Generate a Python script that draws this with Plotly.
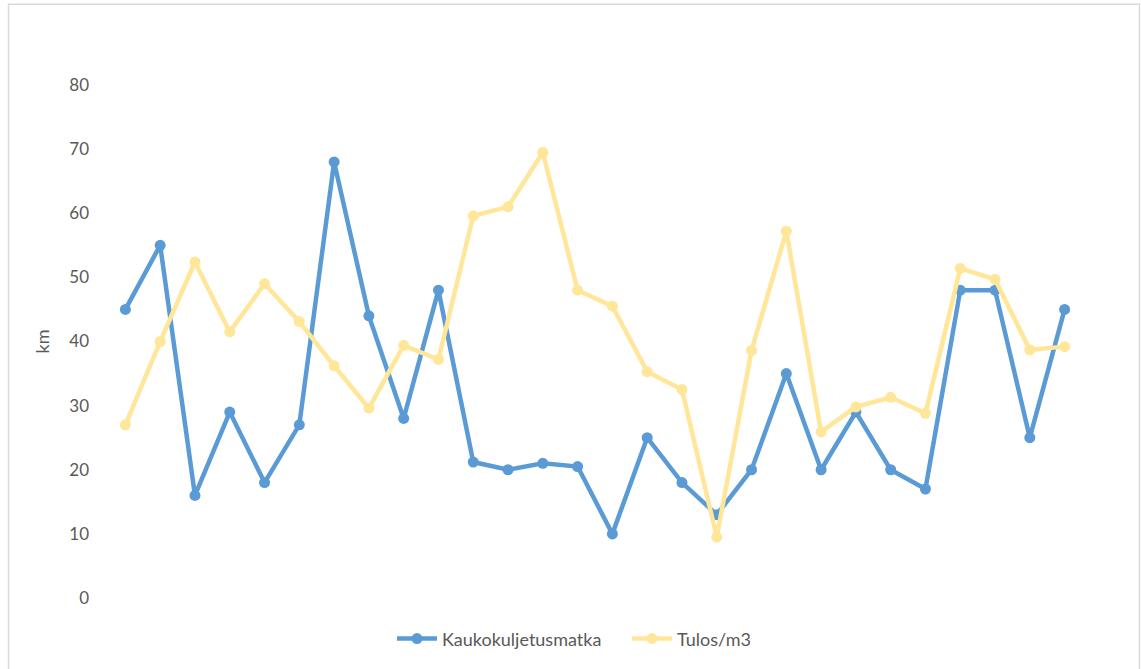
import plotly.graph_objects as go

categories = [str(i) for i in range(1, 29)]
kaukokuljetusmatka = [45, 55, 16, 29, 18, 27, 68, 44, 28, 48, 21.2, 20, 21, 20.5, 10, 25, 18, 13,
                      20, 35, 20, 29, 20, 17, 48, 48, 25, 45]
tulos_m3 = [27, 40, 52.4, 41.5, 49, 43.1, 36.2, 29.6, 39.4, 37.2, 59.6, 61, 69.5, 48, 45.5, 35.3,
            32.5, 9.5, 38.6, 57.2, 25.9, 29.8, 31.3, 28.8, 51.4, 49.7, 38.7, 39.2]
y_ticks = [0, 10, 20, 30, 40, 50, 60, 70, 80]

W, H = 1141, 669
L, R, T, B = 108, 59, 85, 69
pw, ph = W - L - R, H - T - B

fig = go.Figure()
fig.add_trace(go.Scatter(x=categories, y=kaukokuljetusmatka, name="Kaukokuljetusmatka",
                         mode="lines+markers",
                         line=dict(color="#5b9bd5", width=4.5),
                         marker=dict(color="#5b9bd5", size=11)))
fig.add_trace(go.Scatter(x=categories, y=tulos_m3, name="Tulos/m3",
                         mode="lines+markers",
                         line=dict(color="#ffe699", width=4.5),
                         marker=dict(color="#ffe699", size=11)))

# chart frame
fig.add_shape(type="rect", xref="paper", yref="paper",
              x0=(8.5 - L) / pw, x1=(1139.5 - L) / pw,
              y0=(H - 680 - B) / ph, y1=(H - 4 - B) / ph,
              line=dict(color="#d9d9d9", width=1.5), fillcolor="rgba(0,0,0,0)", layer="below")

fig.update_layout(
    width=W, height=H,
    margin=dict(l=L, r=R, t=T, b=B),
    paper_bgcolor="white", plot_bgcolor="white",
    font=dict(family="Lato, Carlito, Calibri, sans-serif", color="#595959", size=17),
    showlegend=True,
    legend=dict(orientation="h", x=(392 - L) / pw, xanchor="left",
                y=-(641 - (H - B)) / ph, yanchor="middle",
                font=dict(size=18, color="#595959"), itemwidth=40, tracegroupgap=0,
                entrywidth=180),
    xaxis=dict(type="category", range=[-0.5, len(categories) - 0.5], showticklabels=False,
               showgrid=False, zeroline=False, showline=False, ticks=""),
    yaxis=dict(range=[0, 80], tickvals=y_ticks, showgrid=False, zeroline=False, showline=False,
               ticks="", ticklabelstandoff=18,
               title=dict(text="km", font=dict(size=18, color="#595959"), standoff=14),
               tickfont=dict(size=17, color="#595959")),
)

fig.write_html("out.html")
